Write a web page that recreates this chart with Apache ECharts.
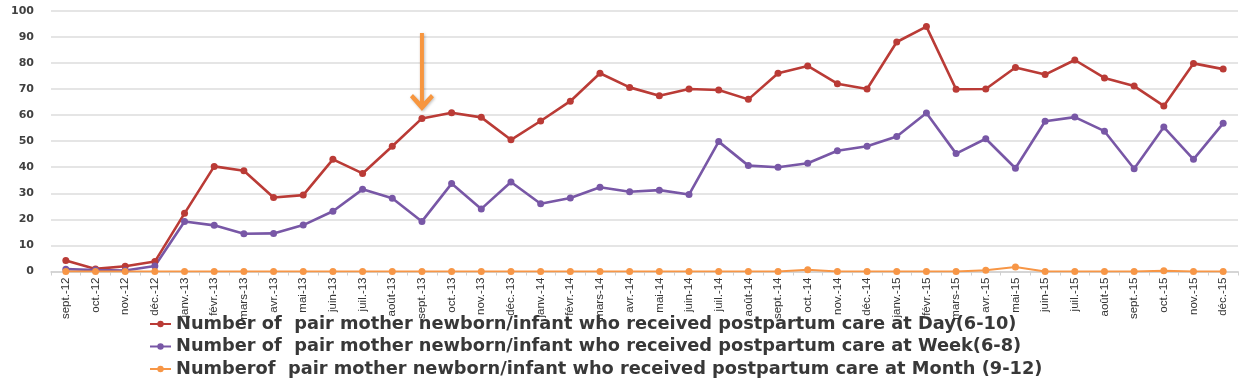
<!DOCTYPE html>
<html><head><meta charset="utf-8">
<script src="https://cdn.jsdelivr.net/npm/echarts@6/dist/echarts.min.js"></script>
<style>html,body{margin:0;padding:0;background:#fff}#c{width:1248px;height:385px}</style>
</head><body><div id="c"></div>
<script>
const categories = ["sept.-12","oct.-12","nov.-12","déc.-12","janv.-13","févr.-13","mars-13","avr.-13","mai-13","juin-13","juil.-13","août-13","sept.-13","oct.-13","nov.-13","déc.-13","janv.-14","févr.-14","mars-14","avr.-14","mai-14","juin-14","juil.-14","août-14","sept.-14","oct.-14","nov.-14","déc.-14","janv.-15","févr.-15","mars-15","avr.-15","mai-15","juin-15","juil.-15","août-15","sept.-15","oct.-15","nov.-15","déc.-15"];
const dayValues = [4.2,1,2,3.8,22.3,40.3,38.6,28.4,29.3,43,37.6,48,58.7,60.9,59.1,50.5,57.7,65.3,76,70.6,67.4,70,69.6,66,76,78.8,72,70,88,93.9,69.9,70,78.2,75.5,81.1,74.2,71.1,63.5,79.8,77.6];
const weekValues = [0.9,0.6,0.4,2.1,19.2,17.7,14.5,14.6,17.8,23.1,31.5,28.1,19.2,33.7,24,34.3,26,28.2,32.3,30.6,31.2,29.5,49.8,40.6,40,41.5,46.3,48,51.8,60.8,45.2,50.9,39.6,57.6,59.2,53.8,39.4,55.4,43,56.8];
const monthValues = [0,0,0,0,0,0,0,0,0,0,0,0,0,0,0,0,0,0,0,0,0,0,0,0,0,0.7,0,0,0,0,0,0.5,1.7,0,0,0,0,0.3,0,0];
const seriesNames = [
  "Number of  pair mother newborn/infant who received postpartum care at Day(6-10)",
  "Number of  pair mother newborn/infant who received postpartum care at Week(6-8)",
  "Numberof  pair mother newborn/infant who received postpartum care at Month (9-12)"
];
const yTicks = {min:0, max:100, interval:10};
const arrowAt = {category:"sept.-13", value:76.5};

const chart = echarts.init(document.getElementById('c'), null, {renderer:'canvas'});
function mk(name, data, color, extra){
  return Object.assign({
    name, type:'line', data, symbol:'circle', symbolSize:7,
    lineStyle:{color, width:2.6}, itemStyle:{color}, animation:false
  }, extra||{});
}
const arrowPath = 'path://M10,0 L14,0 L14,65 L21,58 L24,61 L12,74 L0,61 L3,58 L10,65 Z';
chart.setOption({
  animation:false,
  backgroundColor:'#fff',
  grid:{left:51, right:10, top:10.7, bottom:113.5, containLabel:false},
  legend:{
    orient:'vertical', left:144, top:310, itemGap:4.5, itemWidth:21, itemHeight:8,
    textStyle:{fontFamily:'DejaVu Sans', fontSize:17.8, fontWeight:'bold', color:'#383838'},
    data:seriesNames
  },
  xAxis:{
    type:'category', data:categories, boundaryGap:true,
    axisLine:{lineStyle:{color:'#d0d0d0', width:1.5}},
    axisTick:{show:true, length:4, lineStyle:{color:'#d0d0d0'}},
    axisLabel:{rotate:90, fontSize:11.5, fontFamily:'Liberation Sans Narrow, Liberation Sans', color:'#333', margin:6, interval:0}
  },
  yAxis:{
    type:'value', min:yTicks.min, max:yTicks.max, interval:yTicks.interval,
    axisLine:{show:false}, axisTick:{show:false},
    splitLine:{lineStyle:{color:'#dcdcdc', width:1.5}},
    axisLabel:{fontSize:11, fontWeight:'bold', fontFamily:'DejaVu Sans', color:'#404040', margin:17}
  },
  series:[
    mk(seriesNames[0], dayValues, '#BA3B36', {
      markPoint:{
        symbol:arrowPath, symbolSize:[24,78], silent:true,
        itemStyle:{color:'#F7963F', shadowColor:'rgba(0,0,0,0.25)', shadowBlur:3, shadowOffsetX:1, shadowOffsetY:1},
        label:{show:false},
        data:[{coord:[arrowAt.category, arrowAt.value]}]
      }
    }),
    mk(seriesNames[1], weekValues, '#7857A6'),
    mk(seriesNames[2], monthValues, '#F79646', {lineStyle:{color:'#F79646', width:2}})
  ]
});
</script></body></html>
